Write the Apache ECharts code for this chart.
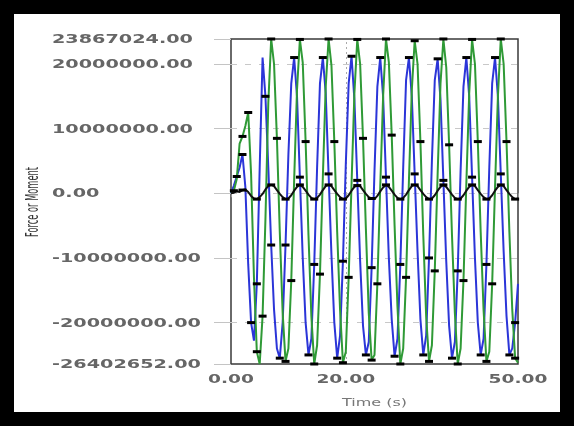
<!DOCTYPE html>
<html>
<head>
<meta charset="utf-8">
<script src="https://cdn.jsdelivr.net/npm/echarts@6/dist/echarts.min.js"></script>
<style>
html,body{margin:0;padding:0;background:#000;}
#chart{width:574px;height:426px;}
</style>
</head>
<body>
<div id="chart"></div>
<script>
// Time (s)
const times = [
  0, 0.5, 1, 1.5, 2, 2.5, 3, 3.5, 4, 4.5,
  5, 5.5, 6, 6.5, 7, 7.5, 8, 8.5, 9, 9.5,
  10, 10.5, 11, 11.5, 12, 12.5, 13, 13.5, 14, 14.5,
  15, 15.5, 16, 16.5, 17, 17.5, 18, 18.5, 19, 19.5,
  20, 20.5, 21, 21.5, 22, 22.5, 23, 23.5, 24, 24.5,
  25, 25.5, 26, 26.5, 27, 27.5, 28, 28.5, 29, 29.5,
  30, 30.5, 31, 31.5, 32, 32.5, 33, 33.5, 34, 34.5,
  35, 35.5, 36, 36.5, 37, 37.5, 38, 38.5, 39, 39.5,
  40, 40.5, 41, 41.5, 42, 42.5, 43, 43.5, 44, 44.5,
  45, 45.5, 46, 46.5, 47, 47.5, 48, 48.5, 49, 49.5,
  50
];
// Values in millions
const blueForce = [
  0, 1.2, 2.6, 4.0, 6.0, 1.0, -11.0, -20.0, -22.8, -14.0,
  4.0, 21.0, 15.0, 4.0, -8.0, -18.0, -24.0, -25.5, -20.0, -8.0,
  6.0, 17.0, 21.0, 15.0, 2.5, -10.0, -20.0, -25.0, -22.5, -11.0,
  4.0, 17.0, 21.0, 15.5, 3.0, -9.5, -20.0, -25.5, -22.0, -10.5,
  4.5, 17.0, 21.2, 14.5, 2.0, -10.5, -20.5, -25.0, -23.0, -11.5,
  3.5, 16.5, 21.0, 15.0, 2.5, -10.0, -19.5, -25.2, -22.5, -11.0,
  4.0, 17.5, 21.0, 15.0, 3.0, -9.0, -19.5, -25.0, -22.0, -10.0,
  5.0, 17.5, 20.8, 14.5, 2.0, -10.5, -20.5, -25.5, -23.0, -12.0,
  3.5, 16.5, 21.0, 15.0, 2.5, -10.0, -20.0, -25.0, -22.5, -11.0,
  4.0, 17.0, 21.0, 15.0, 3.0, -9.0, -19.0, -25.0, -24.0, -20.0,
  -14.0
];
const greenForce = [
  0, 0.4, 2.2, 7.7, 8.8, 10.4, 12.5, 3.0, -13.0, -24.5,
  -26.4, -19.0, -4.0, 14.0, 23.87, 20.0, 8.5, -6.0, -18.5, -26.0,
  -24.0, -13.5, 2.0, 16.0, 23.8, 20.2, 8.0, -6.5, -19.0, -26.4,
  -23.5, -12.5, 2.5, 16.5, 23.87, 19.8, 8.0, -6.0, -18.0, -26.2,
  -24.5, -13.0, 1.5, 15.5, 23.8, 20.0, 8.5, -5.5, -18.5, -25.8,
  -25.0, -14.0, 1.0, 15.0, 23.87, 20.3, 9.0, -5.0, -17.5, -26.4,
  -24.0, -13.0, 2.0, 16.0, 23.6, 20.0, 8.0, -6.5, -19.0, -26.0,
  -23.5, -12.0, 3.0, 17.0, 23.87, 19.5, 7.5, -6.5, -18.5, -26.4,
  -24.0, -13.5, 1.5, 15.5, 23.8, 20.0, 8.0, -6.0, -18.0, -26.0,
  -24.5, -14.0, 1.0, 15.0, 23.87, 20.0, 8.0, -6.0, -18.0, -25.5,
  -26.2
];
const blackForce = [
  0, 0.1, 0.3, 0.2, 0.5, 0.6, 0.2, -0.4, -0.8, -0.9,
  -0.6, -0.1, 0.6, 1.1, 1.3, 1.1, 0.5, -0.1, -0.6, -0.9,
  -0.8, -0.3, 0.4, 1.0, 1.3, 1.0, 0.4, -0.2, -0.7, -0.9,
  -0.7, -0.2, 0.5, 1.1, 1.3, 1.1, 0.5, -0.1, -0.6, -0.9,
  -0.8, -0.3, 0.4, 1.0, 1.2, 1.1, 0.5, -0.1, -0.6, -0.8,
  -0.9, -0.4, 0.3, 0.9, 1.3, 1.0, 0.4, -0.2, -0.7, -0.9,
  -0.7, -0.2, 0.5, 1.1, 1.3, 1.1, 0.5, -0.1, -0.6, -0.9,
  -0.8, -0.3, 0.4, 1.0, 1.3, 1.0, 0.4, -0.2, -0.7, -0.9,
  -0.8, -0.3, 0.4, 1.0, 1.3, 1.1, 0.5, -0.1, -0.6, -0.9,
  -0.8, -0.3, 0.4, 1.0, 1.3, 1.1, 0.5, -0.1, -0.6, -0.9,
  -0.8
];
const UNIT = 1e6;

const yTickValues = [23867024, 20000000, 10000000, 0, -10000000, -20000000, -26402652];
const yTickLabels = ['23867024.00', '20000000.00', '10000000.00', '0.00', '-10000000.00', '-20000000.00', '-26402652.00'];
const yGridValues = [20000000, 10000000, 0, -10000000, -20000000];
const xTickValues = [0, 20, 50];
const xTickLabels = ['0.00', '20.00', '50.00'];
const xGridValues = [20];
const xAxisName = 'Time (s)';
const yAxisName = 'Force or Moment';

const chart = echarts.init(document.getElementById('chart'), null, {renderer: 'canvas'});

function build(vals) { return times.map((t, i) => [t, vals[i] * UNIT]); }
function markerRule(mods) {
  return function (value, params) { return mods.indexOf(params.dataIndex % 5) >= 0 ? 'rect' : 'none'; };
}

const option = {
  animation: false,
  backgroundColor: '#000',
  grid: {left: 231, right: 56, top: 39, bottom: 62, show: true, borderColor: '#3a3a3a', borderWidth: 1.5, backgroundColor: '#fff'},
  xAxis: {
    type: 'value', min: 0, max: 50,
    axisLine: {show: false},
    axisLabel: {show: false},
    splitLine: {show: false},
    axisTick: {show: true, customValues: xTickValues, length: 4, lineStyle: {color: '#999'}}
  },
  yAxis: {
    type: 'value', min: -26402652, max: 23867024,
    axisLine: {show: false},
    axisLabel: {show: false},
    splitLine: {show: false},
    axisTick: {show: true, customValues: yTickValues, length: 17, lineStyle: {color: '#c4c4c4'}}
  },
  series: [
    {
      type: 'line', data: build(blueForce),
      lineStyle: {color: '#2b35d8', width: 2},
      itemStyle: {color: '#000'},
      symbol: markerRule([2, 4]), symbolSize: [8, 3], showAllSymbol: true,
      markLine: {
        silent: true, symbol: 'none', z: 1, animation: false,
        label: {show: false},
        data: yGridValues.map(v => ({yAxis: v, lineStyle: {color: '#c8c8c8', type: [6, 8], width: 1}}))
          .concat(xGridValues.map(v => ({xAxis: v, lineStyle: {color: '#aaa', type: [2, 3], width: 1}})))
      }
    },
    {
      type: 'line', data: build(greenForce),
      lineStyle: {color: '#2f9a36', width: 2},
      itemStyle: {color: '#000'},
      symbol: markerRule([1, 4]), symbolSize: [8, 3], showAllSymbol: true
    },
    {
      type: 'line', data: build(blackForce),
      lineStyle: {color: '#111', width: 2},
      itemStyle: {color: '#000'},
      symbol: markerRule([4]), symbolSize: [8, 3], showAllSymbol: true
    }
  ]
};
chart.setOption(option);

const g = [];
g.push({type: 'rect', shape: {x: 14, y: 14, width: 546, height: 398}, style: {fill: '#fff'}, z: -100, silent: true});
const lblFont = 'bold 12px "DejaVu Sans"';
const lblColor = '#666';
yTickValues.forEach((v, i) => {
  const py = chart.convertToPixel({yAxisIndex: 0}, v);
  g.push({type: 'text', x: 52, y: py + 1, scaleX: 1.6, z: 100, silent: true,
    style: {text: yTickLabels[i], x: 0, y: 0, font: lblFont, fill: lblColor, align: 'left', verticalAlign: 'middle', textAlign: 'left', textVerticalAlign: 'middle'}});
});
const axisY = chart.convertToPixel({yAxisIndex: 0}, -26402652);
xTickValues.forEach((v, i) => {
  const px = chart.convertToPixel({xAxisIndex: 0}, v);
  g.push({type: 'text', x: px, y: axisY + 16, scaleX: 1.55, z: 100, silent: true,
    style: {text: xTickLabels[i], x: 0, y: 0, font: lblFont, fill: lblColor, align: 'center', verticalAlign: 'middle', textAlign: 'center', textVerticalAlign: 'middle'}});
});
const cx = (chart.convertToPixel({xAxisIndex: 0}, 0) + chart.convertToPixel({xAxisIndex: 0}, 50)) / 2;
g.push({type: 'text', x: cx, y: axisY + 39, scaleX: 1.6, z: 100, silent: true,
  style: {text: xAxisName, x: 0, y: 0, font: '10px "DejaVu Sans"', fill: '#777', align: 'center', verticalAlign: 'middle', textAlign: 'center', textVerticalAlign: 'middle'}});
g.push({type: 'text', x: 34, y: 202, rotation: Math.PI / 2, scaleX: 0.69, scaleY: 1.4, z: 100, silent: true,
  style: {text: yAxisName, x: 0, y: 0, font: '12px "DejaVu Sans"', fill: '#333', align: 'center', verticalAlign: 'middle', textAlign: 'center', textVerticalAlign: 'middle'}});
chart.setOption({graphic: {elements: g}});
</script>
</body>
</html>
